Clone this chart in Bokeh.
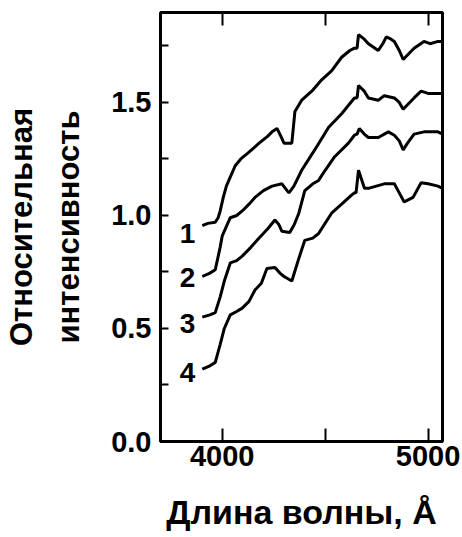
from bokeh.plotting import figure
from bokeh.models import (FixedTicker, LinearAxis, NumeralTickFormatter, Range1d)
from bokeh.core.properties import value
from bokeh.embed import file_html
from bokeh.resources import INLINE

wl1 = [3903, 3930, 3966, 3980, 3990, 4005, 4020, 4034, 4063, 4090, 4130, 4179, 4220, 4242, 4266, 4285, 4300, 4338, 4353, 4386, 4435, 4483, 4531, 4580, 4620, 4642, 4655, 4662, 4690, 4710, 4758, 4780, 4797, 4820, 4836, 4860, 4879, 4900, 4932, 4980, 5010, 5048, 5070]
i1 = [0.955, 0.965, 0.97, 0.99, 1.02, 1.08, 1.13, 1.16, 1.22, 1.25, 1.28, 1.32, 1.35, 1.37, 1.385, 1.35, 1.32, 1.32, 1.46, 1.51, 1.55, 1.60, 1.64, 1.70, 1.73, 1.74, 1.74, 1.80, 1.78, 1.76, 1.73, 1.76, 1.79, 1.78, 1.77, 1.73, 1.69, 1.71, 1.74, 1.77, 1.76, 1.77, 1.77]

wl2 = [3903, 3940, 3966, 3990, 4000, 4039, 4070, 4097, 4130, 4159, 4200, 4242, 4290, 4315, 4324, 4348, 4386, 4449, 4517, 4580, 4642, 4655, 4662, 4690, 4710, 4758, 4787, 4836, 4860, 4879, 4900, 4932, 4966, 5000, 5048, 5070]
i2 = [0.73, 0.745, 0.76, 0.86, 0.91, 0.99, 1.00, 1.02, 1.05, 1.08, 1.11, 1.13, 1.14, 1.11, 1.10, 1.13, 1.20, 1.29, 1.39, 1.45, 1.52, 1.52, 1.575, 1.55, 1.52, 1.51, 1.53, 1.52, 1.50, 1.47, 1.49, 1.52, 1.55, 1.54, 1.54, 1.54]

wl3 = [3903, 3940, 3966, 3990, 4010, 4039, 4070, 4097, 4140, 4179, 4220, 4256, 4275, 4290, 4328, 4350, 4372, 4401, 4440, 4468, 4500, 4546, 4613, 4642, 4655, 4666, 4690, 4710, 4758, 4807, 4836, 4860, 4879, 4900, 4932, 4980, 5048, 5070]
i3 = [0.55, 0.56, 0.57, 0.64, 0.71, 0.79, 0.80, 0.82, 0.86, 0.90, 0.94, 0.98, 0.96, 0.93, 0.925, 0.96, 1.01, 1.11, 1.14, 1.155, 1.20, 1.26, 1.32, 1.355, 1.36, 1.385, 1.36, 1.345, 1.345, 1.37, 1.355, 1.33, 1.29, 1.32, 1.36, 1.37, 1.37, 1.36]

wl4 = [3903, 3940, 3966, 3990, 4010, 4039, 4070, 4097, 4130, 4159, 4190, 4217, 4256, 4280, 4300, 4338, 4372, 4401, 4440, 4468, 4531, 4580, 4628, 4642, 4650, 4662, 4680, 4691, 4710, 4787, 4836, 4860, 4884, 4927, 4966, 5000, 5048, 5070]
i4 = [0.32, 0.335, 0.35, 0.43, 0.50, 0.56, 0.575, 0.59, 0.62, 0.67, 0.70, 0.765, 0.77, 0.745, 0.73, 0.71, 0.81, 0.89, 0.90, 0.92, 1.01, 1.05, 1.09, 1.10, 1.10, 1.20, 1.15, 1.12, 1.12, 1.14, 1.14, 1.10, 1.06, 1.08, 1.145, 1.14, 1.13, 1.12]

curve_names = ["1", "2", "3", "4"]
name_wl = [3831, 3831, 3831, 3831]
name_val = [0.92, 0.726, 0.52, 0.305]

x_major = [4000, 5000]
x_minor = [4500]
y_major = [0.0, 0.5, 1.0, 1.5]
y_minor = [0.25, 0.75, 1.25, 1.75]

y_title_1 = "Относительная"
y_title_2 = "интенсивность"
x_title = "Длина волны, Å"

font = "Liberation Sans"

p = figure(width=462, height=537, output_backend="svg", toolbar_location=None,
           x_range=Range1d(3700, 5070), y_range=Range1d(0, 1.898),
           min_border_left=158, min_border_right=20, min_border_top=12, min_border_bottom=96,
           x_axis_location=None, y_axis_location=None)
p.grid.visible = False
p.background_fill_color = "white"
p.border_fill_color = "white"
p.outline_line_color = "black"
p.outline_line_width = 3

xa = LinearAxis(ticker=FixedTicker(ticks=x_major, minor_ticks=x_minor), axis_label=x_title)
xa.major_tick_in = 13
xa.major_tick_out = 0
xa.minor_tick_in = 13
xa.minor_tick_out = 0
xa.major_tick_line_width = 2
xa.minor_tick_line_width = 2
xa.axis_line_width = 3
xa.major_label_text_font = font
xa.major_label_text_font_style = "bold"
xa.major_label_text_font_size = "29px"
xa.major_label_text_color = "black"
xa.major_label_standoff = 4
xa.axis_label_text_font = font
xa.axis_label_text_font_style = "bold"
xa.axis_label_text_font_size = "34px"
xa.axis_label_text_color = "black"
xa.axis_label_standoff = 24
p.add_layout(xa, "below")

xt = LinearAxis(ticker=FixedTicker(ticks=x_major, minor_ticks=x_minor))
xt.major_tick_in = 13
xt.major_tick_out = 0
xt.minor_tick_in = 13
xt.minor_tick_out = 0
xt.major_tick_line_width = 2
xt.minor_tick_line_width = 2
xt.axis_line_width = 3
xt.major_label_text_font_size = "0px"
xt.major_label_text_color = None
p.add_layout(xt, "above")

ya = LinearAxis(ticker=FixedTicker(ticks=y_major, minor_ticks=y_minor),
                formatter=NumeralTickFormatter(format="0.0"), axis_label=y_title_2)
ya.major_tick_in = 8
ya.major_tick_out = 0
ya.minor_tick_in = 8
ya.minor_tick_out = 0
ya.major_tick_line_width = 2
ya.minor_tick_line_width = 2
ya.axis_line_width = 3
ya.major_label_text_font = font
ya.major_label_text_font_style = "bold"
ya.major_label_text_font_size = "29px"
ya.major_label_text_color = "black"
ya.major_label_standoff = 9
ya.axis_label_text_font = font
ya.axis_label_text_font_style = "bold"
ya.axis_label_text_font_size = "31px"
ya.axis_label_text_color = "black"
ya.axis_label_standoff = 22
p.add_layout(ya, "left")

ya2 = LinearAxis(ticker=FixedTicker(ticks=[]), axis_label=y_title_1)
ya2.axis_line_color = None
ya2.major_tick_line_color = None
ya2.minor_tick_line_color = None
ya2.major_tick_in = 0
ya2.major_tick_out = 0
ya2.minor_tick_in = 0
ya2.minor_tick_out = 0
ya2.major_label_text_font_size = "0px"
ya2.major_label_standoff = 0
ya2.axis_label_text_font = font
ya2.axis_label_text_font_style = "bold"
ya2.axis_label_text_font_size = "31px"
ya2.axis_label_text_color = "black"
ya2.axis_label_standoff = 10
p.add_layout(ya2, "left")

for xs, ys in [(wl1, i1), (wl2, i2), (wl3, i3), (wl4, i4)]:
    p.line(xs, ys, line_color="black", line_width=3)

p.text(x=name_wl, y=name_val, text=curve_names, text_font=value(font),
       text_font_style="bold", text_font_size="28px", text_align="center",
       text_baseline="middle", text_color="black")

open("out.html", "w").write(file_html(p, INLINE))
